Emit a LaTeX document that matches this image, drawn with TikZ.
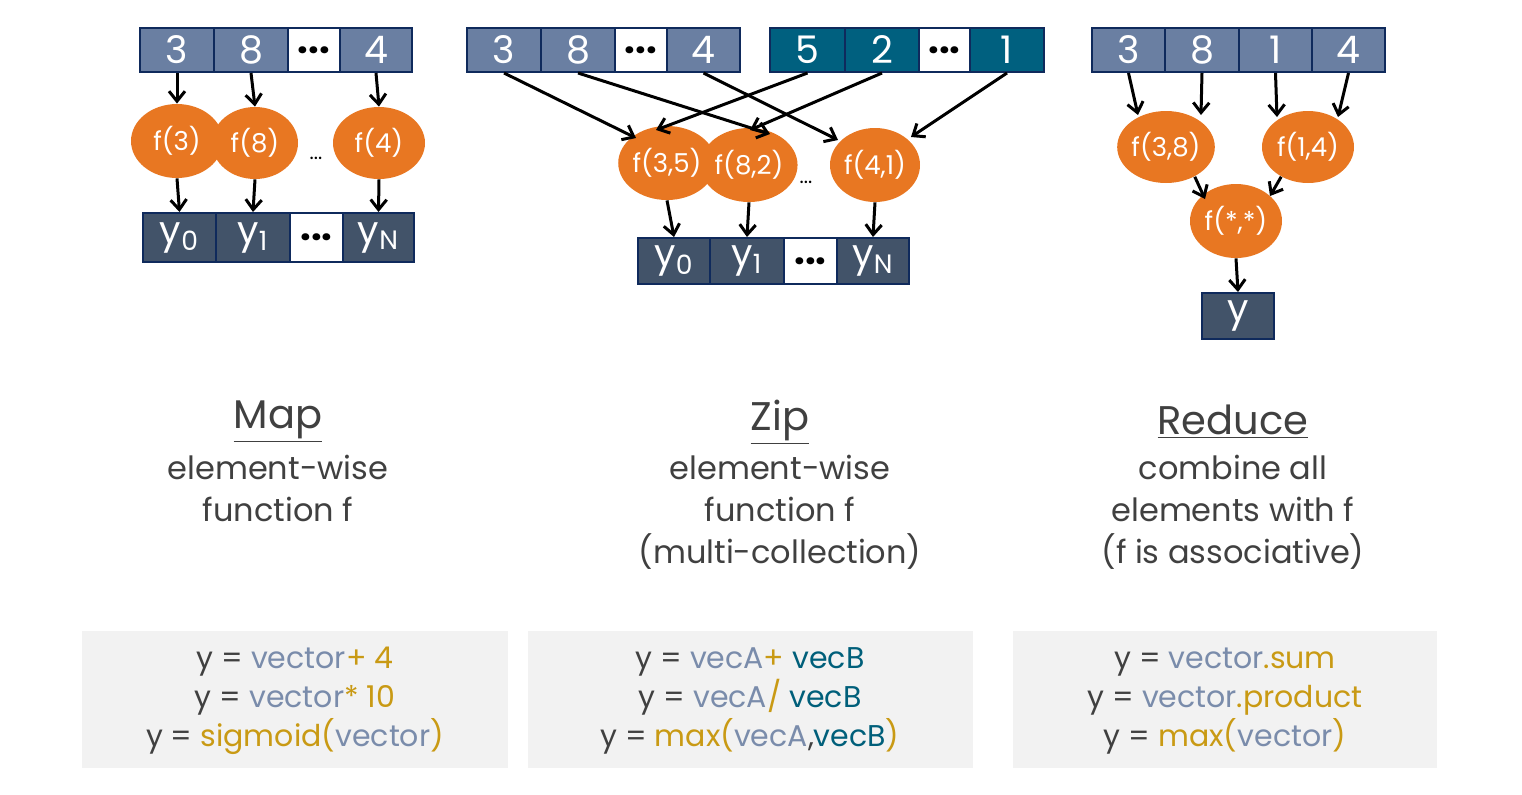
\documentclass[tikz,border=0pt]{standalone}
\usepackage{fontspec}
\setmainfont{Poppins}
\usetikzlibrary{arrows.meta,shapes.geometric}
\definecolor{lb}{HTML}{6A7FA2}
\definecolor{tl}{HTML}{00607F}
\definecolor{db}{HTML}{425369}
\definecolor{bd}{HTML}{0F2A5C}
\definecolor{orng}{HTML}{E87722}
\definecolor{gold}{HTML}{C99A14}
\definecolor{bg}{HTML}{7A8CAB}
\definecolor{tt}{HTML}{005F7A}
\definecolor{gt}{HTML}{404040}
\definecolor{panel}{HTML}{F2F2F2}
\begin{document}
\begin{tikzpicture}[x=0.5pt,y=-0.5pt,
 cell/.style={draw=bd,line width=1pt,text=white,font=\fontsize{19}{20}\selectfont,inner sep=0pt},
 fn/.style={ellipse,fill=orng,text=white,font=\fontsize{13}{14}\selectfont,inner sep=0pt},
 arr/.style={-{Straight Barb[length=5pt,width=8pt]},line width=1.5pt},
 lbl/.style={text=gt,align=center,font=\fontsize{16}{21}\selectfont},
 ttl/.style={text=gt,font=\fontsize{20}{22}\selectfont},
 code/.style={text=gt,align=center,font=\fontsize{15}{19.5}\selectfont}]
\useasboundingbox (0,0) rectangle (1522,794);
\tikzset{mk/.style n args={3}{cell,fill=#1,minimum width=#2*0.5pt,minimum height=#3*0.5pt}}
\newcommand{\cb}[7]{\node[mk={#5}{#3}{#4},text=#6] (#1) at (#2) {#7};}
% Map
\cb{m1}{177,50}{74}{44}{lb}{white}{3}
\cb{m2}{251,50}{74}{44}{lb}{white}{8}
\cb{m3}{314,50}{52}{44}{white}{black}{\textbf{...}}
\cb{m4}{376,50}{72}{44}{lb}{white}{4}
\node[fn,minimum width=46pt,minimum height=37pt] (mf1) at (177,141) {f(3)};
\node[fn,minimum width=43pt,minimum height=36pt] (mf2) at (255,143) {f(8)};
\node[fn,minimum width=46pt,minimum height=36pt] (mf4) at (379,143) {f(4)};
\node[text=black] (md) at (316,158) {...};
\cb{my0}{179.5,237.5}{73}{49}{db}{white}{y\textsubscript{0}}
\cb{my1}{253,237.5}{74}{49}{db}{white}{y\textsubscript{1}}
\cb{my2}{316.5,237.5}{53}{49}{white}{black}{\textbf{...}}
\cb{my3}{378.5,237.5}{71}{49}{db}{white}{y\textsubscript{N}}
\draw[arr] (m1.south) -- (mf1.north);
\draw[arr] (m2.south) -- (mf2.north);
\draw[arr] (m4.south) -- (mf4.north);
\draw[arr] (mf1.south) -- (my0.north);
\draw[arr] (mf2.south) -- (my1.north);
\draw[arr] (mf4.south) -- (my3.north);
% Zip
\cb{a1}{504,50}{74}{44}{lb}{white}{3}
\cb{a2}{578,50}{74}{44}{lb}{white}{8}
\cb{a3}{641,50}{52}{44}{white}{black}{\textbf{...}}
\cb{a4}{703.5,50}{73}{44}{lb}{white}{4}
\cb{b1}{807.5,50}{75}{44}{tl}{white}{5}
\cb{b2}{882,50}{74}{44}{tl}{white}{2}
\cb{b3}{944.5,50}{51}{44}{white}{black}{\textbf{...}}
\cb{b4}{1007,50}{74}{44}{tl}{white}{1}
\node[fn,minimum width=45pt,minimum height=37pt] (z1) at (667,163) {f(3,5)};
\node[fn,minimum width=45pt,minimum height=37pt] (z2) at (749,165) {f(8,2)};
\node[fn,minimum width=45pt,minimum height=37pt] (z4) at (875,165) {f(4,1)};
\node[text=black] (zd) at (806,182) {...};
\cb{zy0}{674,261}{72}{46}{db}{white}{y\textsubscript{0}}
\cb{zy1}{747,261}{74}{46}{db}{white}{y\textsubscript{1}}
\cb{zy2}{810.5,261}{53}{46}{white}{black}{\textbf{...}}
\cb{zy3}{873,261}{72}{46}{db}{white}{y\textsubscript{N}}
\coordinate (e1) at (636,138);
\coordinate (e2) at (656,130);
\coordinate (e3) at (770,134);
\coordinate (e4) at (750,130);
\coordinate (e5) at (838,140);
\coordinate (e6) at (911,137);
\draw[arr] (a1.south) -- (e1);
\draw[arr] (b1.south) -- (e2);
\draw[arr] (a2.south) -- (e3);
\draw[arr] (b2.south) -- (e4);
\draw[arr] (a4.south) -- (e5);
\draw[arr] (b4.south) -- (e6);
\draw[arr] (z1.south) -- (zy0.north);
\draw[arr] (z2.south) -- (zy1.north);
\draw[arr] (z4.south) -- (zy3.north);
% Reduce
\cb{r1}{1128.5,50}{73}{44}{lb}{white}{3}
\cb{r2}{1202,50}{74}{44}{lb}{white}{8}
\cb{r3}{1275.5,50}{73}{44}{lb}{white}{1}
\cb{r4}{1348.5,50}{73}{44}{lb}{white}{4}
\node[fn,minimum width=46pt,minimum height=36pt] (rf1) at (1166,147) {f(3,8)};
\node[fn,minimum width=46pt,minimum height=36pt] (rf2) at (1308,147) {f(1,4)};
\node[fn,minimum width=46pt,minimum height=37pt] (rf3) at (1236,221) {f(*,*)};
\cb{ry}{1238,316}{72}{46}{db}{white}{y}
\coordinate (c1) at (1138,115);
\coordinate (c2) at (1201,115);
\coordinate (c3) at (1277,117);
\coordinate (c4) at (1338,117);
\draw[arr] (r1.south) -- (c1);
\draw[arr] (r2.south) -- (c2);
\draw[arr] (r3.south) -- (c3);
\draw[arr] (r4.south) -- (c4);
\coordinate (c5) at (1205,199);
\coordinate (c6) at (1270,196);
\draw[arr] (rf1.south east) ++(-6,4) -- (c5);
\draw[arr] (rf2.south west) ++(6,4) -- (c6);
\draw[arr] (rf3.south) -- (ry.north);
% labels
\node[ttl] (t1) at (278,422) {\underline{Map}};
\node[lbl,anchor=north] (l1) at (278,448) {element-wise\\function f};
\node[ttl] (t2) at (780,422) {\underline{Zip}};
\node[lbl,anchor=north] (l2) at (780,448) {element-wise\\function f\\(multi-collection)};
\node[ttl] (t3) at (1233,422) {\underline{Reduce}};
\node[lbl,anchor=north] (l3) at (1233,448) {combine all\\elements with f\\(f is associative)};
% panels
\fill[panel] (82,631) rectangle (508,768);
\fill[panel] (528,631) rectangle (973,768);
\fill[panel] (1013,631) rectangle (1437,768);
\node[code] (p1) at (295,701) {y = \textcolor{bg}{vector}\textcolor{gold}{ + 4}\\y = \textcolor{bg}{vector}\textcolor{gold}{ * 10}\\y = \textcolor{gold}{sigmoid(}\textcolor{bg}{vector}\textcolor{gold}{)}};
\node[code] (p2) at (750,701) {y = \textcolor{bg}{vecA}\textcolor{gold}{ + }\textcolor{tt}{vecB}\\y = \textcolor{bg}{vecA}\textcolor{gold}{ / }\textcolor{tt}{vecB}\\y = \textcolor{gold}{max(}\textcolor{bg}{vecA}\textcolor{gt}{,}\textcolor{tt}{vecB}\textcolor{gold}{)}};
\node[code] (p3) at (1225,701) {y = \textcolor{bg}{vector}\textcolor{gold}{.sum}\\y = \textcolor{bg}{vector}\textcolor{gold}{.product}\\y = \textcolor{gold}{max(}\textcolor{bg}{vector}\textcolor{gold}{)}};
\end{tikzpicture}
\end{document}
